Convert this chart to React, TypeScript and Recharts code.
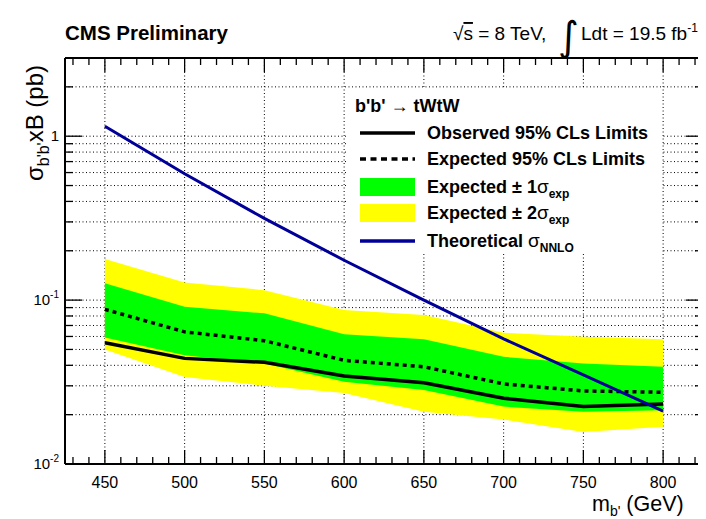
import React from 'react';
import { ComposedChart, Line, Area, XAxis, YAxis, CartesianGrid } from 'recharts';

const masses = [450, 500, 550, 600, 650, 700, 750, 800];
const observed = [0.0549, 0.0441, 0.0417, 0.0344, 0.0313, 0.0252, 0.0224, 0.0232];
const expected = [0.0878, 0.064, 0.0565, 0.0429, 0.0392, 0.0308, 0.0279, 0.0274];
const oneSigmaLow = [0.0592, 0.046, 0.041, 0.0318, 0.0283, 0.0224, 0.0208, 0.0213];
const oneSigmaHigh = [0.1265, 0.091, 0.083, 0.0618, 0.0576, 0.0451, 0.0411, 0.0392];
const twoSigmaLow = [0.05, 0.034, 0.03, 0.0271, 0.0208, 0.0187, 0.0157, 0.0169];
const twoSigmaHigh = [0.178, 0.128, 0.115, 0.0869, 0.081, 0.0632, 0.0597, 0.0576];
const theory = [1.15, 0.59, 0.315, 0.175, 0.1, 0.058, 0.035, 0.021];

const xMajorTicks = [450, 500, 550, 600, 650, 700, 750, 800];
const xAllTicks = [430, 440, 450, 460, 470, 480, 490, 500, 510, 520, 530, 540, 550, 560, 570, 580, 590, 600,
  610, 620, 630, 640, 650, 660, 670, 680, 690, 700, 710, 720, 730, 740, 750, 760, 770, 780, 790, 800, 810, 820];
const yAllTicks = [0.01, 0.02, 0.03, 0.04, 0.05, 0.06, 0.07, 0.08, 0.09, 0.1, 0.2, 0.3, 0.4, 0.5, 0.6, 0.7, 0.8, 0.9, 1, 2];
const yTickLabels = [
  { value: 0.01, base: '10', exp: '-2' },
  { value: 0.1, base: '10', exp: '-1' },
  { value: 1, base: '1', exp: '' },
];

const data = masses.map((m, i) => ({
  m,
  obs: observed[i],
  exp: expected[i],
  s1: [oneSigmaLow[i], oneSigmaHigh[i]],
  s2: [twoSigmaLow[i], twoSigmaHigh[i]],
  th: theory[i],
}));

const FONT = "'Liberation Sans', Arial, Helvetica, sans-serif";
const TICKW = 1.3;

const BottomTick = (props: any) => {
  const { x, y, payload } = props;
  const v = payload.value;
  const major = xMajorTicks.includes(v);
  return (
    <g>
      <line x1={x} x2={x} y1={y} y2={y - (major ? 14 : 7)} stroke="#000" strokeWidth={TICKW} />
      {major && (
        <text x={x} y={y + 24} textAnchor="middle" fontSize={16} fontFamily={FONT} fill="#000">{v}</text>
      )}
    </g>
  );
};

const TopTick = (props: any) => {
  const { x, y, payload } = props;
  const major = xMajorTicks.includes(payload.value);
  return <line x1={x} x2={x} y1={y} y2={y + (major ? 14 : 7)} stroke="#000" strokeWidth={TICKW} />;
};

const LeftTick = (props: any) => {
  const { x, y, payload } = props;
  const lab = yTickLabels.find((l) => l.value === payload.value);
  return (
    <g>
      <line x1={x} x2={x + (lab ? 17 : 8)} y1={y} y2={y} stroke="#000" strokeWidth={TICKW} />
      {lab && (
        <text x={x - 6} y={y + 5} textAnchor="end" fontSize={15} fontFamily={FONT} fill="#000">
          {lab.base}
          {lab.exp && <tspan dy={-7} fontSize={10}>{lab.exp}</tspan>}
        </text>
      )}
    </g>
  );
};

const RightTick = (props: any) => {
  const { x, y, payload } = props;
  const lab = yTickLabels.find((l) => l.value === payload.value);
  return <line x1={x} x2={x - (lab ? 17 : 8)} y1={y} y2={y} stroke="#000" strokeWidth={TICKW} />;
};

const legendRows = [
  { kind: 'solid', color: '#000000', label: 'Observed 95% CLs Limits' },
  { kind: 'dash', color: '#000000', label: 'Expected 95% CLs Limits' },
  { kind: 'box', color: '#00ff00', label: 'Expected \u00b1 1', sub: 'exp' },
  { kind: 'box', color: '#ffff00', label: 'Expected \u00b1 2', sub: 'exp' },
  { kind: 'solid', color: '#000099', label: 'Theoretical ', sub: 'NNLO' },
];
const legendRowY = [125, 151, 179, 205, 233];

export default function App() {
  return (
    <div style={{ position: 'relative', width: 698, height: 511, fontFamily: FONT }}>
      <ComposedChart
        width={698}
        height={511}
        data={data}
        margin={{ top: 49, right: 2, bottom: 54, left: 56 }}
        style={{ background: '#fff' }}
      >
        <CartesianGrid
          horizontalValues={yAllTicks}
          verticalValues={xMajorTicks}
          stroke="#000"
          strokeDasharray="1 2.5"
          strokeWidth={1}
        />
        <Area type="linear" dataKey="s2" fill="#ffff00" fillOpacity={1} stroke="none" isAnimationActive={false} />
        <Area type="linear" dataKey="s1" fill="#00ff00" fillOpacity={1} stroke="none" isAnimationActive={false} />
        <Line type="linear" dataKey="exp" stroke="#000" strokeWidth={3.5} strokeDasharray="4 4" dot={false} isAnimationActive={false} />
        <Line type="linear" dataKey="obs" stroke="#000" strokeWidth={3.5} dot={false} isAnimationActive={false} />
        <Line type="linear" dataKey="th" stroke="#000099" strokeWidth={3} dot={false} isAnimationActive={false} />
        <XAxis
          dataKey="m"
          type="number"
          domain={[425, 825]}
          allowDataOverflow
          ticks={xAllTicks}
          interval={0}
          height={1}
          tickSize={0}
          tickMargin={0}
          tickLine={false}
          tick={<BottomTick />}
          axisLine={{ stroke: '#000', strokeWidth: 2 }}
        />
        <XAxis
          xAxisId="top"
          orientation="top"
          dataKey="m"
          type="number"
          domain={[425, 825]}
          allowDataOverflow
          ticks={xAllTicks}
          interval={0}
          height={1}
          tickSize={0}
          tickMargin={0}
          tickLine={false}
          tick={<TopTick />}
          axisLine={{ stroke: '#000', strokeWidth: 2 }}
        />
        <YAxis
          scale="log"
          type="number"
          domain={[0.01, 3]}
          allowDataOverflow
          ticks={yAllTicks}
          interval={0}
          width={1}
          tickSize={0}
          tickMargin={0}
          tickLine={false}
          tick={<LeftTick />}
          axisLine={{ stroke: '#000', strokeWidth: 2 }}
        />
        <YAxis
          yAxisId="right"
          orientation="right"
          scale="log"
          type="number"
          domain={[0.01, 3]}
          allowDataOverflow
          ticks={yAllTicks}
          interval={0}
          width={1}
          tickSize={0}
          tickMargin={0}
          tickLine={false}
          tick={<RightTick />}
          axisLine={{ stroke: '#000', strokeWidth: 2 }}
        />
      </ComposedChart>
      <svg
        width={698}
        height={511}
        style={{ position: 'absolute', left: 0, top: 0, pointerEvents: 'none' }}
        fontFamily={FONT}
      >
        <text x={57} y={32} fontSize={20.5} fontWeight="bold" fill="#000">CMS Preliminary</text>
        <text x={445} y={32} fontSize={19} fill="#000">
          {'\u221a'}<tspan textDecoration="overline">s</tspan> = 8 TeV,
        </text>
        <text x={550} y={42} fontSize={40} fill="#000" fontFamily="'DejaVu Sans', sans-serif">{'\u222b'}</text>
        <text x={573} y={32} fontSize={19} fill="#000">
          Ldt = 19.5 fb<tspan dy={-8} fontSize={12}>-1</tspan>
        </text>

        <g transform="translate(35, 57) rotate(-90)">
          <text x={0} y={0} textAnchor="end" fontSize={24} fill="#000">
            {'\u03c3'}<tspan dy={6} fontSize={16}>b'b'</tspan><tspan dy={-6}>xB (pb)</tspan>
          </text>
        </g>
        <text x={584} y={503} fontSize={21.5} fill="#000">
          m<tspan dy={5} fontSize={14}>b'</tspan><tspan dy={-5}> (GeV)</tspan>
        </text>

        <rect x={338} y={81} width={315} height={163} fill="#fff" />
        <text x={347} y={104} fontSize={18} fontWeight="bold" fill="#000">b'b' {'\u2192'} tWtW</text>
        {legendRows.map((r, i) => {
          const cy = legendRowY[i];
          return (
            <g key={i}>
              {r.kind === 'box' ? (
                <rect x={352} y={cy - 9} width={55} height={18} fill={r.color} />
              ) : (
                <line
                  x1={352}
                  x2={407}
                  y1={cy}
                  y2={cy}
                  stroke={r.color}
                  strokeWidth={3.5}
                  strokeDasharray={r.kind === 'dash' ? '6 4.5' : undefined}
                />
              )}
              <text x={419} y={cy + 6} fontSize={18} fontWeight="bold" fill="#000">
                {r.label}
                {r.sub && (
                  <>
                    <tspan fontWeight="normal" fontSize={19}>{'\u03c3'}</tspan>
                    <tspan dy={5} fontSize={12}>{r.sub}</tspan>
                  </>
                )}
              </text>
            </g>
          );
        })}
      </svg>
    </div>
  );
}
